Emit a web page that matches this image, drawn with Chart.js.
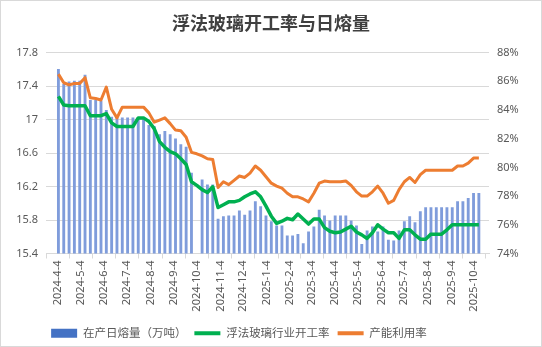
<!DOCTYPE html>
<html>
<head>
<meta charset="utf-8">
<script src="https://cdn.jsdelivr.net/npm/chart.js@4"></script>
<style>
  html, body { margin: 0; padding: 0; background: #fff; }
  #wrap { width: 540px; height: 345px; border: 1px solid #d9d9d9; }
</style>
</head>
<body>
<div id="wrap"><canvas id="glass" width="540" height="345"></canvas></div>
<script>
// weekly readings, first one on firstWeek; the holiday week has no melt figure
const firstWeek = "2024-4-5";
const monthTicks = [
  "2024-4-4", "2024-5-4", "2024-6-4", "2024-7-4", "2024-8-4", "2024-9-4",
  "2024-10-4", "2024-11-4", "2024-12-4", "2025-1-4", "2025-2-4", "2025-3-4",
  "2025-4-4", "2025-5-4", "2025-6-4", "2025-7-4", "2025-8-4", "2025-9-4", "2025-10-4"
];
const meltVolume = [
  17.60, 17.42, 17.45, 17.46, 17.46, 17.53, 17.23, 17.23, 17.22, 17.11,
  17.03, 17.02, 17.02, 17.02, 17.02, 17.02, 17.00, 16.93, 16.92, 16.82,
  16.86, 16.82, 16.77, 16.70, 16.67, 16.36, null, 16.28, 16.22, 16.22,
  15.81, 15.84, 15.85, 15.85, 15.91, 15.86, 15.91, 16.02, 15.96, 15.85,
  15.78, 15.73, 15.73, 15.61, 15.61, 15.63, 15.52, 15.66, 15.72, 15.92,
  15.85, 15.79, 15.85, 15.85, 15.85, 15.79, 15.73, 15.51, 15.67, 15.72,
  15.66, 15.72, 15.56, 15.55, 15.67, 15.78, 15.84, 15.77, 15.90, 15.95,
  15.95, 15.95, 15.95, 15.95, 15.95, 16.02, 16.02, 16.06, 16.12, 16.12
];
const operatingRate = [
  84.95, 84.35, 84.3, 84.3, 84.3, 84.3, 83.6, 83.6, 83.6, 83.75,
  83.1, 82.85, 82.85, 82.85, 82.85, 83.45, 83.45, 83.2, 82.7, 81.8,
  81.4, 81.1, 80.95, 80.6, 80.2, 79.0, 78.75, 78.45, 78.25, 78.65,
  77.2, 77.4, 77.6, 77.6, 77.7, 77.95, 78.15, 78.3, 77.95, 77.3,
  76.6, 76.1, 76.25, 76.45, 76.35, 76.75, 76.4, 76.05, 76.4, 76.4,
  75.8, 75.55, 75.45, 75.5, 75.7, 75.9, 75.5, 75.3, 75.05, 75.45,
  76.0, 75.7, 75.45, 75.45, 75.05, 75.65, 75.65, 75.3, 75.0, 75.0,
  75.35, 75.35, 75.35, 75.65, 76.0, 76.0, 76.0, 76.0, 76.0, 76.0
];
const capacityUse = [
  86.5, 85.9, 85.75, 85.85, 85.85, 86.25, 84.85, 84.8, 84.7, 85.6,
  84.05, 83.45, 84.2, 84.2, 84.2, 84.2, 84.2, 83.8, 83.15, 83.3,
  83.45, 83.05, 82.6, 82.55, 82.1, 81.05, 80.95, 80.8, 80.6, 80.55,
  78.6, 79.0, 78.8, 79.1, 79.4, 79.3, 79.6, 80.1, 79.8, 79.35,
  78.9, 78.7, 78.55, 78.2, 77.95, 77.95, 77.8, 77.6, 78.2, 78.9,
  79.05, 79.0, 79.0, 79.0, 79.05, 78.75, 78.3, 78.0, 78.0, 78.3,
  78.7, 78.2, 77.5, 77.7, 78.45, 79.0, 79.3, 78.95, 79.5, 79.8,
  79.8, 79.8, 79.8, 79.8, 79.8, 80.1, 80.1, 80.3, 80.65, 80.65
];

const FONT = '"Noto Sans", "Noto Sans CJK SC", sans-serif';
const GRAY = "#595959";

// x runs in days counted from the first month tick
const origin = Date.UTC(2024, 3, 4);
function dayOf(s) {
  const [y, m, d] = s.split("-").map(Number);
  return (Date.UTC(y, m - 1, d) - origin) / 86400000;
}
const tickDays = monthTicks.map(dayOf);
const weekDays = meltVolume.map((_, i) => dayOf(firstWeek) + 7 * i);
const pts = (arr) => arr.map((v, i) => ({ x: weekDays[i], y: v }));

// nudge the legend left/down so it sits under the plot like the office chart
const legendShift = {
  id: "legendShift",
  afterLayout(chart) {
    const l = chart.legend;
    l.left -= 32; l.right -= 32;
    l.top += 3; l.bottom += 3;
  }
};

// keep the edge bars whole but cut bars at the bottom of the plot
const sideClip = { left: 4, right: 4, top: 0, bottom: 0 };

new Chart(document.getElementById("glass"), {
  type: "bar",
  data: {
    datasets: [
      {
        type: "bar",
        label: "在产日熔量（万吨）",
        data: pts(meltVolume),
        backgroundColor: "#7f9cdb",
        barThickness: 2.2,
        yAxisID: "y",
        pointStyle: "rect",
        clip: sideClip,
        order: 3,
      },
      {
        type: "line",
        label: "浮法玻璃行业开工率",
        data: pts(operatingRate),
        borderColor: "#00b050",
        backgroundColor: "#00b050",
        borderWidth: 3.5,
        pointRadius: 0,
        pointStyle: "line",
        tension: 0,
        borderJoinStyle: "round",
        yAxisID: "y1",
        clip: sideClip,
        order: 1,
      },
      {
        type: "line",
        label: "产能利用率",
        data: pts(capacityUse),
        borderColor: "#ed7d31",
        backgroundColor: "#ed7d31",
        borderWidth: 3,
        pointRadius: 0,
        pointStyle: "line",
        tension: 0,
        borderJoinStyle: "round",
        yAxisID: "y1",
        clip: sideClip,
        order: 2,
      },
    ],
  },
  options: {
    responsive: false,
    devicePixelRatio: 1,
    animation: false,
    events: [],
    layout: { padding: 0 },
    plugins: {
      title: {
        display: true,
        text: "浮法玻璃开工率与日熔量",
        color: "#404040",
        font: { family: '"Noto Sans CJK SC", sans-serif', size: 18, weight: "bold" },
        padding: { top: 11, bottom: 19 },
      },
      legend: {
        position: "bottom",
        align: "center",
        labels: {
          usePointStyle: true,
          pointStyleWidth: 26,
          boxHeight: 9,
          padding: 8,
          color: GRAY,
          font: { family: FONT, size: 11.5 },
          generateLabels(chart) {
            const items = Chart.defaults.plugins.legend.labels.generateLabels(chart);
            items.sort((a, b) => a.datasetIndex - b.datasetIndex);
            items.forEach((it) => {
              if (it.datasetIndex === 0) it.fillStyle = "#4472c4";
              else it.lineWidth = 4;
            });
            return items;
          },
        },
      },
      tooltip: { enabled: false },
    },
    scales: {
      x: {
        type: "linear",
        min: 0,
        max: 552,
        afterBuildTicks(scale) {
          scale.ticks = tickDays.map((v) => ({ value: v }));
        },
        afterFit(scale) { scale.height = 63; },
        ticks: {
          autoSkip: false,
          minRotation: 90,
          maxRotation: 90,
          padding: 2,
          color: GRAY,
          font: { family: FONT, size: 11 },
          callback: (v, i) => monthTicks[i],
        },
        grid: { drawOnChartArea: false, drawTicks: true, tickLength: 5, color: "#d9d9d9" },
        border: { color: "#d9d9d9" },
      },
      y: {
        position: "left",
        min: 15.4,
        max: 17.8,
        afterFit(scale) { scale.width = 45; },
        ticks: {
          stepSize: 0.4,
          padding: 8,
          color: GRAY,
          font: { family: FONT, size: 11 },
          callback: (v) => String(Number(v.toFixed(1))),
        },
        grid: { color: "#d9d9d9", drawTicks: false },
        border: { display: false },
      },
      y1: {
        position: "right",
        min: 74,
        max: 88,
        afterFit(scale) { scale.width = 52; },
        ticks: {
          stepSize: 2,
          padding: 8,
          color: GRAY,
          font: { family: FONT, size: 11 },
          callback: (v) => v + "%",
        },
        grid: { display: false, drawTicks: false },
        border: { display: false },
      },
    },
  },
  plugins: [legendShift],
});
</script>
</body>
</html>
